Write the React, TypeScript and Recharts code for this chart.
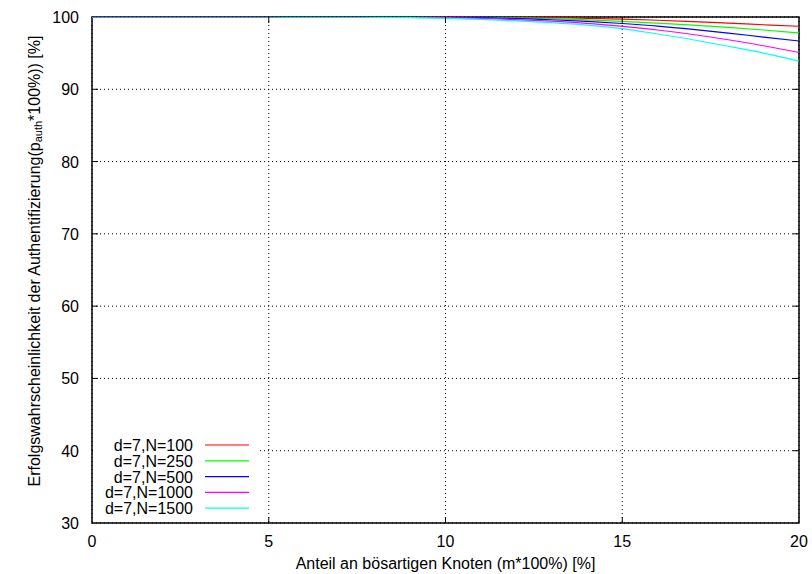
import React from "react";
import { LineChart, Line, XAxis, YAxis, CartesianGrid, Legend } from "recharts";

const xValues = [0, 1, 2, 3, 4, 5, 6, 7, 8, 9, 10, 11, 12, 13, 14, 15, 16, 17, 18, 19, 20];
const n100 = [100, 100, 100, 100, 100, 100, 100, 100, 100, 100, 100, 99.99, 99.96, 99.91, 99.82, 99.7, 99.55, 99.36, 99.15, 98.93, 98.72];
const n250 = [100, 100, 100, 100, 100, 100, 100, 100, 100, 99.99, 99.98, 99.95, 99.88, 99.77, 99.61, 99.4, 99.15, 98.88, 98.56, 98.2, 97.8];
const n500 = [100, 100, 100, 100, 100, 100, 100, 100, 99.99, 99.98, 99.95, 99.9, 99.8, 99.62, 99.4, 99.1, 98.75, 98.3, 97.78, 97.22, 96.68];
const n1000 = [100, 100, 100, 100, 100, 100, 100, 99.99, 99.98, 99.95, 99.9, 99.8, 99.65, 99.44, 99.13, 98.7, 98.2, 97.58, 96.85, 96.02, 95.1];
const n1500 = [100, 100, 100, 100, 100, 100, 99.99, 99.98, 99.95, 99.9, 99.8, 99.66, 99.47, 99.22, 98.88, 98.4, 97.65, 96.85, 95.95, 95.0, 93.9];

const seriesNames = ["d=7,N=100", "d=7,N=250", "d=7,N=500", "d=7,N=1000", "d=7,N=1500"];
const seriesKeys = ["n100", "n250", "n500", "n1000", "n1500"];
const seriesColors = ["#ff0000", "#00ff00", "#0000ff", "#ff00ff", "#00ffff"];
const seriesValues = [n100, n250, n500, n1000, n1500];

const xTicks = [0, 5, 10, 15, 20];
const yTicks = [30, 40, 50, 60, 70, 80, 90, 100];

const xTitle = "Anteil an bösartigen Knoten (m*100%) [%]";
const yTitleA = "Erfolgswahrscheinlichkeit der Authentifizierung(p";
const yTitleSub = "auth";
const yTitleB = "*100%)) [%]";

const data = xValues.map((x, i) => {
  const row: any = { x };
  seriesKeys.forEach((k, j) => {
    row[k] = seriesValues[j][i];
  });
  return row;
});

const W = 812;
const H = 574;
const M = { top: 17, right: 13, left: 0, bottom: 0 };
const PLOT_LEFT = 92;
const PLOT_RIGHT = W - M.right;
const PLOT_TOP = M.top;
const PLOT_BOTTOM = 523;
const FONT = "'Liberation Sans', Arial, Helvetica, sans-serif";
const FS = 16;
const TICK_LEN = 6;

const YTick = (props: any) => {
  const { y, payload } = props;
  const inner = payload.value !== 30 && payload.value !== 100;
  return (
    <g>
      <text x={PLOT_LEFT - 13} y={y} dy={6} textAnchor="end" fontSize={FS} fontFamily={FONT} fill="#000">
        {payload.value}
      </text>
      {inner && (
        <>
          <line x1={PLOT_LEFT} x2={PLOT_LEFT + TICK_LEN} y1={y} y2={y} stroke="#000" strokeWidth={1} />
          <line x1={PLOT_RIGHT - TICK_LEN} x2={PLOT_RIGHT} y1={y} y2={y} stroke="#000" strokeWidth={1} />
        </>
      )}
    </g>
  );
};

const XTick = (props: any) => {
  const { x, payload } = props;
  const inner = payload.value !== 0 && payload.value !== 20;
  return (
    <g>
      <text x={x} y={PLOT_BOTTOM + 24} textAnchor="middle" fontSize={FS} fontFamily={FONT} fill="#000">
        {payload.value}
      </text>
      {inner && (
        <>
          <line x1={x} x2={x} y1={PLOT_BOTTOM} y2={PLOT_BOTTOM - TICK_LEN} stroke="#000" strokeWidth={1} />
          <line x1={x} x2={x} y1={PLOT_TOP} y2={PLOT_TOP + TICK_LEN} stroke="#000" strokeWidth={1} />
        </>
      )}
    </g>
  );
};

const XTitle = (props: any) => {
  const vb = props.viewBox || { x: PLOT_LEFT, width: PLOT_RIGHT - PLOT_LEFT, y: PLOT_BOTTOM };
  return (
    <text x={vb.x + vb.width / 2} y={PLOT_BOTTOM + 46} textAnchor="middle" fontSize={FS} fontFamily={FONT} fill="#000">
      {xTitle}
    </text>
  );
};

const YTitle = () => {
  const cx = 34;
  const cy = 261;
  return (
    <text
      x={cx}
      y={cy}
      transform={`rotate(-90 ${cx} ${cy})`}
      textAnchor="middle"
      dominantBaseline="central"
      fontSize={FS}
      fontFamily={FONT}
      fill="#000"
    >
      <tspan>{yTitleA}</tspan>
      <tspan fontSize={11} dy={4}>{yTitleSub}</tspan>
      <tspan dy={-4}>{yTitleB}</tspan>
    </text>
  );
};

const LegendBox = () => {
  const rowH = 15.8;
  return (
    <svg width={167} height={90} style={{ display: "block", background: "#fff" }}>
      {seriesNames.map((name, i) => {
        const cy = 14 + i * rowH;
        return (
          <g key={name}>
            <text x={100} y={cy} dy={6} textAnchor="end" fontSize={FS} fontFamily={FONT} fill="#000">
              {name}
            </text>
            <line x1={112} x2={156} y1={cy} y2={cy} stroke={seriesColors[i]} strokeWidth={1.2} />
          </g>
        );
      })}
    </svg>
  );
};

export default function App() {
  return (
    <div style={{ position: "absolute", left: 0, top: 0, width: W, height: H, background: "#fff" }}>
      <LineChart width={W} height={H} data={data} margin={M}>
        <CartesianGrid stroke="#000" strokeDasharray="1 3" strokeWidth={1} />
        <XAxis
          dataKey="x"
          type="number"
          domain={[0, 20]}
          ticks={xTicks}
          tick={<XTick />}
          tickLine={false}
          axisLine={false}
          height={51}
          label={<XTitle />}
          interval={0}
        />
        <YAxis
          type="number"
          domain={[30, 100]}
          ticks={yTicks}
          tick={<YTick />}
          tickLine={false}
          axisLine={false}
          width={92}
          label={<YTitle />}
          interval={0}
          allowDataOverflow
        />
        {seriesKeys.map((k, i) => (
          <Line
            key={k}
            type="monotone"
            dataKey={k}
            name={seriesNames[i]}
            stroke={seriesColors[i]}
            strokeWidth={1.2}
            dot={false}
            isAnimationActive={false}
          />
        ))}
        <Legend
          layout="vertical"
          align="center"
          verticalAlign="middle"
          content={<LegendBox />}
          wrapperStyle={{ position: "absolute", left: PLOT_LEFT + 1, top: 431, width: 167, height: 90 }}
        />
        <rect x={PLOT_LEFT} y={PLOT_TOP} width={PLOT_RIGHT - PLOT_LEFT} height={PLOT_BOTTOM - PLOT_TOP} fill="none" stroke="#000" strokeWidth={1.5} />
      </LineChart>
    </div>
  );
}
